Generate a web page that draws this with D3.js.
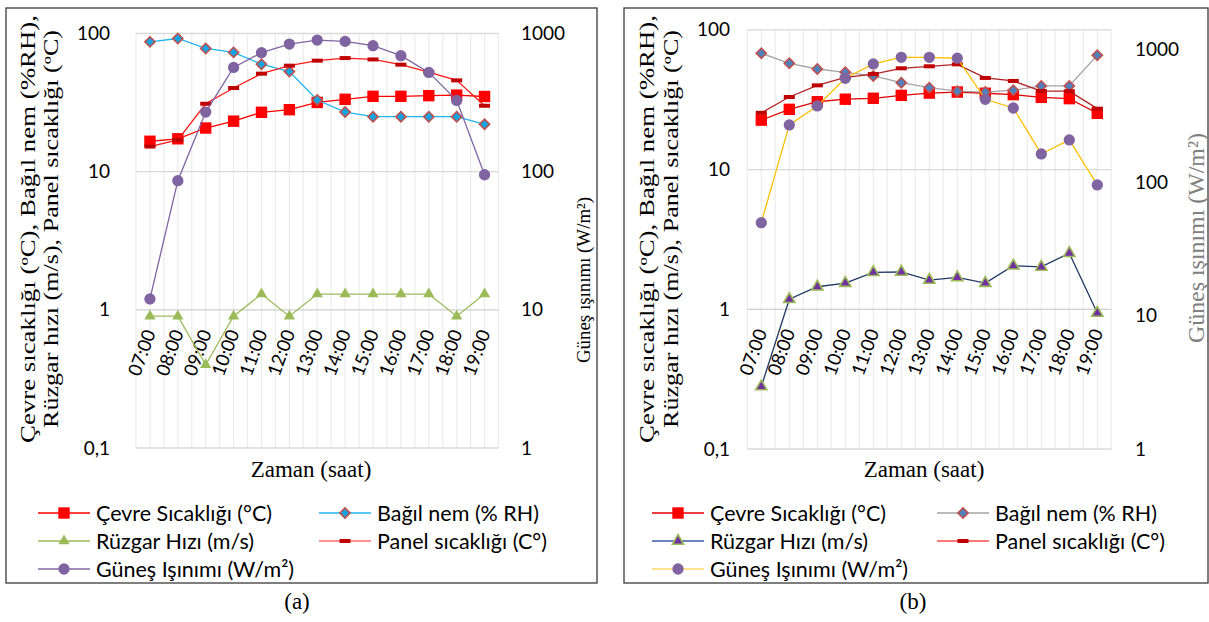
<!DOCTYPE html>
<html><head><meta charset="utf-8">
<script src="https://cdn.jsdelivr.net/npm/d3@7"></script>
<style>body{margin:0;background:#fff} svg{display:block}
.serif{font-family:"Liberation Serif","Times New Roman",Times,"DejaVu Serif","Noto Serif",serif;}
</style>
</head><body><svg id="c" width="1209" height="622"></svg>
<script>
// ---------- data ----------
const hours = ["07:00","08:00","09:00","10:00","11:00","12:00","13:00","14:00","15:00","16:00","17:00","18:00","19:00"];
const leftTickValues = [0.1, 1, 10, 100];
const leftTickLabels = ["0,1", "1", "10", "100"];
const rightTickValues = [1, 10, 100, 1000];
const rightTickLabels = ["1", "10", "100", "1000"];
const seriesNames = ["Çevre Sıcaklığı (°C)", "Bağıl nem (% RH)", "Rüzgar Hızı (m/s)", "Panel sıcaklığı (C°)", "Güneş Işınımı (W/m²)"];

// chart (a)
const aCevre  = [16.6, 17.3, 20.7, 23.2, 26.9, 28.1, 31.7, 33.4, 35.1, 35.1, 35.5, 35.8, 35.0];
const aNem    = [87, 92, 78, 73, 60, 53, 33, 27, 25, 25, 25, 25, 22];
const aRuzgar = [0.9, 0.9, 0.4, 0.9, 1.3, 0.9, 1.3, 1.3, 1.3, 1.3, 1.3, 0.9, 1.3];
const aPanel  = [15.2, 17.0, 31.0, 40.3, 51.2, 58.5, 63.6, 66.4, 64.9, 59.5, 52.6, 45.8, 30.0];
const aGunes  = [12, 86, 270, 568, 726, 838, 896, 877, 816, 691, 523, 328, 95];

// chart (b)
const bCevre  = [22.6, 27.0, 30.6, 31.9, 32.4, 34.0, 35.3, 35.9, 35.2, 34.4, 32.9, 32.2, 25.3];
const bNem    = [68, 57.7, 52.5, 49.7, 46.8, 41.9, 38.6, 36.4, 35.9, 37.0, 39.7, 39.7, 65.8];
const bRuzgar = [0.28, 1.18, 1.45, 1.54, 1.84, 1.85, 1.62, 1.69, 1.54, 2.05, 2.01, 2.52, 0.94];
const bPanel  = [25.5, 33.1, 40.1, 45.8, 48.3, 53.1, 54.9, 56.7, 45.3, 43.1, 36.5, 36.4, 27.3];
const bGunes  = [50, 271, 376, 607, 777, 872, 872, 858, 422, 363, 164, 209, 96];

// ---------- drawing ----------
const svg = d3.select("#c");
svg.append("rect").attr("width", 1209).attr("height", 622).attr("fill", "#fff");

const SANS = "Lato, 'Liberation Sans', sans-serif";

function markerPath(type) {
  if (type === "square") return d3.symbol(d3.symbolSquare, 130)();
  if (type === "circle") return d3.symbol(d3.symbolCircle, 100)();
  if (type === "triangle") return d3.symbol(d3.symbolTriangle, 55)();
  if (type === "diamond") return d3.symbol(d3.symbolSquare, 52)();
  if (type === "dash") return "M-5.5,-2H5.5V2H-5.5Z";
  return "";
}
function drawMarker(g, st, cx, cy) {
  g.append("path")
    .attr("d", markerPath(st.marker))
    .attr("transform", `translate(${cx},${cy})` + (st.marker === "diamond" ? " rotate(45)" : ""))
    .attr("fill", st.fill)
    .attr("stroke", st.mstroke || "none")
    .attr("stroke-width", st.mstroke ? 1.6 : 0);
}

function drawChart(cfg) {
  const g = svg.append("g");
  g.append("rect").attr("x", cfg.frame[0]).attr("y", cfg.frame[1])
    .attr("width", cfg.frame[2]).attr("height", cfg.frame[3])
    .attr("fill", "#fff").attr("stroke", "#3a3a3a").attr("stroke-width", 1.3);

  const x = d3.scaleBand().domain(hours).range([cfg.plot.x0, cfg.plot.x1]).padding(0);
  const bw = x.bandwidth();
  const yL = d3.scaleLog().domain([0.1, 100]).range([cfg.plot.yBot, cfg.plot.yTop]);
  const yR = d3.scaleLog().domain([1, cfg.rightMax]).range([cfg.plot.yBot, cfg.plot.yTop]);

  const vx = [];
  hours.forEach(h => { vx.push(x(h)); vx.push(x(h) + bw / 2); });
  vx.push(cfg.plot.x1);
  g.append("g").selectAll("line").data(vx).join("line")
    .attr("x1", d => d).attr("x2", d => d)
    .attr("y1", cfg.plot.yTop).attr("y2", cfg.plot.yBot)
    .attr("stroke", "#ececec").attr("stroke-width", 1.2);
  g.append("g").selectAll("line").data(leftTickValues).join("line")
    .attr("x1", cfg.plot.x0).attr("x2", cfg.plot.x1)
    .attr("y1", d => yL(d)).attr("y2", d => yL(d))
    .attr("stroke", d => d === 1 ? "#cfcfcf" : "#d9d9d9").attr("stroke-width", 1.3);

  const la = g.append("g").attr("transform", `translate(${cfg.leftLabelX},0)`)
    .call(d3.axisLeft(yL).tickValues(leftTickValues).tickFormat((d, i) => leftTickLabels[i]).tickSize(0).tickPadding(0));
  la.select(".domain").remove();
  la.selectAll("text").attr("font-family", SANS).attr("font-size", 19).attr("fill", "#000");

  const ra = g.append("g").attr("transform", `translate(${cfg.rightLabelX},0)`)
    .call(d3.axisRight(yR).tickValues(rightTickValues).tickFormat((d, i) => rightTickLabels[i]).tickSize(0).tickPadding(0));
  ra.select(".domain").remove();
  ra.selectAll("text").attr("font-family", SANS).attr("font-size", 19).attr("fill", "#000");

  const xa = g.append("g").attr("transform", `translate(0,${yL(1)})`)
    .call(d3.axisBottom(x).tickSize(0).tickPadding(0));
  xa.select(".domain").remove();
  xa.selectAll("text")
    .attr("x", 0).attr("y", 0).attr("dy", "0.35em")
    .attr("text-anchor", "end")
    .attr("transform", "translate(0,20.5) rotate(-70)")
    .attr("font-family", SANS).attr("font-size", 18.5).attr("fill", "#000");

  const line = (sc) => d3.line().x((d, i) => x(hours[i]) + bw / 2).y(d => sc(d));
  cfg.series.forEach(st => {
    const sc = st.axis === "R" ? yR : yL;
    g.append("path").datum(st.data).attr("d", line(sc)).attr("fill", "none")
      .attr("stroke", st.line).attr("stroke-width", 1.3);
    const mg = g.append("g");
    st.data.forEach((v, i) => drawMarker(mg, st, x(hours[i]) + bw / 2, sc(v)));
  });

  cfg.leftTitle.forEach((t, i) => {
    g.append("text").attr("class", "serif")
      .attr("transform", `translate(${cfg.leftTitleX[i]},${cfg.leftTitleCy}) rotate(-90)`)
      .attr("text-anchor", "middle").attr("dominant-baseline", "central")
      .attr("font-size", 20)
      .attr("textLength", cfg.leftTitleLen[i]).attr("lengthAdjust", "spacingAndGlyphs")
      .attr("fill", "#000").text(t);
  });
  g.append("text").attr("class", "serif")
    .attr("transform", `translate(${cfg.rightTitle.x},${cfg.rightTitle.cy}) rotate(-90)`)
    .attr("text-anchor", "middle").attr("dominant-baseline", "central")
    .attr("font-size", cfg.rightTitle.size)
    .attr("textLength", cfg.rightTitle.len).attr("lengthAdjust", "spacingAndGlyphs")
    .attr("fill", cfg.rightTitle.color).text("Güneş ışınımı (W/m²)");
  g.append("text").attr("class", "serif").attr("x", cfg.zamanX).attr("y", 477).attr("text-anchor", "middle")
    .attr("font-size", 23).attr("fill", "#000").text("Zaman (saat)");
  g.append("text").attr("class", "serif").attr("x", cfg.captionX).attr("y", 609).attr("text-anchor", "middle")
    .attr("font-size", 23).attr("fill", "#000").text(cfg.caption);

  cfg.series.forEach((st, i) => {
    const col = i % 2, row = Math.floor(i / 2);
    const lx = cfg.legendX[col], ly = cfg.legendY[row];
    g.append("line").attr("x1", lx).attr("x2", lx + 52).attr("y1", ly).attr("y2", ly)
      .attr("stroke", st.legendLine || st.line).attr("stroke-width", 1.3);
    drawMarker(g, st, lx + 26, ly);
    g.append("text").attr("x", lx + 58).attr("y", ly).attr("dy", "0.35em")
      .attr("font-family", SANS).attr("font-size", 21.5).attr("fill", "#000").text(seriesNames[i]);
  });
}

const leftTitleLines = ["Çevre sıcaklığı (ºC), Bağıl nem (%RH),", "Rüzgar hızı (m/s), Panel sıcaklığı (ºC)"];

drawChart({
  frame: [6, 8, 591, 575],
  plot: { x0: 136, x1: 498.5, yTop: 33.5, yBot: 448 },
  rightMax: 1000,
  leftLabelX: 110, rightLabelX: 521,
  leftTitle: leftTitleLines, leftTitleX: [27.5, 50.5], leftTitleCy: 229, leftTitleLen: [428, 398],
  rightTitle: { x: 583.5, cy: 280, len: 166, size: 19, color: "#000" },
  zamanX: 311, caption: "(a)", captionX: 297,
  legendX: [38, 319], legendY: [513, 541, 569],
  series: [
    { data: aCevre,  axis: "L", line: "#ff0000", marker: "square",   fill: "#ff0000" },
    { data: aNem,    axis: "L", line: "#1fb4ec", marker: "diamond",  fill: "#17a3df", mstroke: "#c0504d" },
    { data: aRuzgar, axis: "L", line: "#9bbb59", marker: "triangle", fill: "#9bbb59" },
    { data: aPanel,  axis: "L", line: "#ff1a1a", legendLine: "#ff6f6f", marker: "dash", fill: "#c00000" },
    { data: aGunes,  axis: "R", line: "#8064a2", marker: "circle",   fill: "#8064a2" }
  ]
});

drawChart({
  frame: [624, 8, 584, 575],
  plot: { x0: 747.3, x1: 1111.3, yTop: 29.9, yBot: 449 },
  rightMax: 1400,
  leftLabelX: 730, rightLabelX: 1135,
  leftTitle: leftTitleLines, leftTitleX: [647, 670.5], leftTitleCy: 229, leftTitleLen: [428, 398],
  rightTitle: { x: 1196.5, cy: 238, len: 210, size: 23, color: "#808080" },
  zamanX: 924, caption: "(b)", captionX: 913,
  legendX: [652, 937], legendY: [513, 541, 569],
  series: [
    { data: bCevre,  axis: "L", line: "#e00000", marker: "square",   fill: "#ff0000" },
    { data: bNem,    axis: "L", line: "#a5a5a5", marker: "diamond",  fill: "#4f81bd", mstroke: "#c0504d" },
    { data: bRuzgar, axis: "L", line: "#1f3864", legendLine: "#3b5ba5", marker: "triangle", fill: "#7030a0", mstroke: "#9bbb59" },
    { data: bPanel,  axis: "L", line: "#b22222", legendLine: "#ff4a4a", marker: "dash", fill: "#c00000" },
    { data: bGunes,  axis: "R", line: "#ffc000", legendLine: "#ffd966", marker: "circle", fill: "#8064a2" }
  ]
});
</script></body></html>
